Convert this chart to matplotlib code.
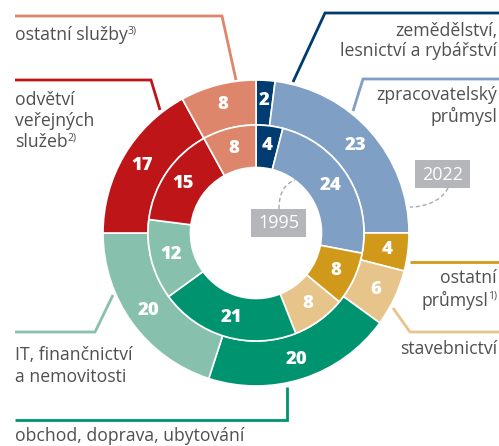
import matplotlib
matplotlib.use("Agg")
import matplotlib.pyplot as plt
from matplotlib.patches import Rectangle
from matplotlib.path import Path
from matplotlib.patches import PathPatch
import numpy as np

sectors = ["zemědělství, lesnictví a rybářství", "zpracovatelský průmysl", "ostatní průmysl",
           "stavebnictví", "obchod, doprava, ubytování", "IT, finančnictví a nemovitosti",
           "odvětví veřejných služeb", "ostatní služby"]
values_2022 = [2, 23, 4, 6, 20, 20, 17, 8]
values_1995 = [4, 24, 8, 8, 21, 12, 15, 8]
colors = ["#003b71", "#7f9fc4", "#d1991a", "#e7c48a", "#00936f", "#87c1ad", "#bd1518", "#de866b"]
year_outer = "2022"
year_inner = "1995"

W, H = 499, 446
fig = plt.figure(figsize=(W / 100, H / 100), dpi=100)
ax = fig.add_axes([0, 0, 1, 1])

CX, CY = 256, 233
R_OUT, R_MID, R_IN = 153, 108, 65.5
FONT = "Open Sans"
TXT = "#505050"

# y axis inverted (pixel coords): visual clockwise from top -> counterclock=True, startangle=-90
ax.pie(values_2022, radius=R_OUT, center=(CX, CY), colors=colors, startangle=-90, counterclock=True,
       wedgeprops=dict(width=R_OUT - R_MID, edgecolor="white", linewidth=1.2), frame=True)
ax.pie(values_1995, radius=R_MID, center=(CX, CY), colors=colors, startangle=-90, counterclock=True,
       wedgeprops=dict(width=R_MID - R_IN, edgecolor="white", linewidth=1.2), frame=True)
ax.set_xlim(0, W)
ax.set_ylim(H, 0)
ax.set_aspect("equal")
ax.axis("off")


def ring_labels(vals, r):
    tot = sum(vals)
    cum = 0
    for v in vals:
        mid = (cum + v / 2) / tot * 2 * np.pi
        cum += v
        x = CX + r * np.sin(mid)
        y = CY - r * np.cos(mid)
        ax.text(x, y, str(v), ha="center", va="center", color="white", fontsize=13.3,
                fontweight="heavy", family=FONT)


ring_labels(values_2022, (R_OUT + R_MID) / 2 + 2)
ring_labels(values_1995, (R_MID + R_IN) / 2 + 1)

LW = 2.0


def leader(pts, color):
    xs, ys = zip(*pts)
    ax.plot(xs, ys, color=color, lw=LW, solid_capstyle="butt", solid_joinstyle="miter")


leader([(15, 16), (222, 16), (236, 80)], colors[7])
leader([(15, 80), (151, 80), (160, 110)], colors[6])
leader([(293, 82), (325, 13), (W, 13)], colors[0])
leader([(353, 111), (363, 79), (W, 79)], colors[1])
leader([(410, 262), (W, 262)], colors[2])
leader([(393, 308), (410, 332), (W, 332)], colors[3])
leader([(287, 387), (287, 420), (15, 420)], colors[4])
leader([(113, 295), (95, 332), (15, 332)], colors[5])

FS = 12.7
SFS = 7.5
fig.canvas.draw()
renderer = fig.canvas.get_renderer()


def text_w(s, size):
    t = ax.text(0, 0, s, fontsize=size, family=FONT)
    bb = t.get_window_extent(renderer)
    t.remove()
    return bb.width  # pixels == data units here


def label_left(x, y, s, sup=None):
    ax.text(x, y, s, ha="left", va="center", fontsize=FS, color=TXT, family=FONT)
    if sup:
        w = text_w(s, FS)
        ax.text(x + w, y - 4, sup, ha="left", va="center", fontsize=SFS, color=TXT, family=FONT)


def label_right(x, y, s, sup=None):
    if sup:
        ws = text_w(sup, SFS)
        ax.text(x, y - 4, sup, ha="right", va="center", fontsize=SFS, color=TXT, family=FONT)
        x = x - ws
    ax.text(x, y, s, ha="right", va="center", fontsize=FS, color=TXT, family=FONT)


label_left(15, 35, "ostatní služby", "3)")
label_left(15, 100, "odvětví")
label_left(15, 121, "veřejných")
label_left(15, 142, "služeb", "2)")
label_right(497, 31, "zemědělství,")
label_right(497, 51, "lesnictví a rybářství")
label_right(497, 95, "zpracovatelský")
label_right(497, 116, "průmysl")
label_right(497, 278, "ostatní")
label_right(497, 300, "průmysl", "1)")
label_right(497, 349, "stavebnictví")
label_left(15, 355, "IT, finančnictví")
label_left(15, 377, "a nemovitosti")
label_left(15, 436, "obchod, doprava, ubytování")

# year boxes
BOX = "#b5b6ba"
ax.add_patch(Rectangle((251, 209), 55, 28, facecolor=BOX, edgecolor="none"))
ax.text(278.5, 223.5, year_inner, ha="center", va="center", color="white", fontsize=13, family=FONT)
ax.add_patch(Rectangle((415, 160), 55, 28, facecolor=BOX, edgecolor="none"))
ax.text(442.5, 174.5, year_outer, ha="center", va="center", color="white", fontsize=13, family=FONT)

# dashed connectors
p1 = Path([(279, 209), (279, 192), (285, 184), (295, 180)], [Path.MOVETO, Path.CURVE4, Path.CURVE4, Path.CURVE4])
ax.add_patch(PathPatch(p1, fill=False, edgecolor="#a8a8a8", lw=1, linestyle=(0, (3, 2))))
p2 = Path([(448, 188), (440, 203), (422, 207), (410, 207)], [Path.MOVETO, Path.CURVE4, Path.CURVE4, Path.CURVE4])
ax.add_patch(PathPatch(p2, fill=False, edgecolor="#a8a8a8", lw=1, linestyle=(0, (3, 2))))

fig.savefig("out.png", dpi=100)
